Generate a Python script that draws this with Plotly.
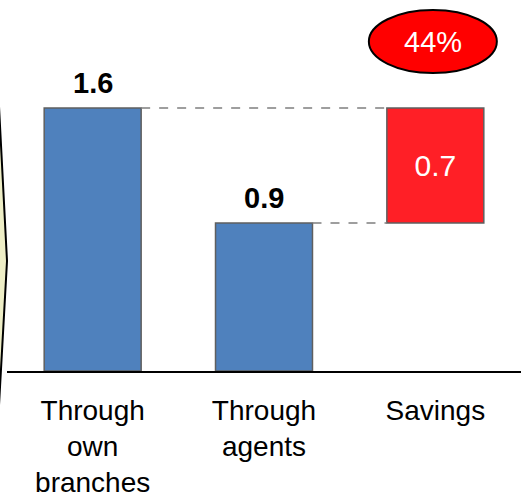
import plotly.graph_objects as go

# Cost per transaction by channel
categories = ["Through<br>own<br>branches", "Through<br>agents", "Savings"]
own_branches = 1.6
agents = 0.9
savings = round(own_branches - agents, 1)
savings_pct = savings / own_branches

BLUE = "#4F81BD"
RED = "#FF1F26"
OUTLINE = "#5F5F5F"
FONT = "Arial, Liberation Sans, sans-serif"
BAR_W = 0.566

fig = go.Figure()

# Blue cost bars
fig.add_trace(go.Bar(
    x=[0, 1], y=[own_branches, agents],
    width=BAR_W,
    marker=dict(color=BLUE, line=dict(color=OUTLINE, width=1.5)),
    hoverinfo="skip",
))

# Floating savings bar between the two costs
fig.add_trace(go.Bar(
    x=[2], y=[savings], base=[agents],
    width=BAR_W,
    marker=dict(color=RED, line=dict(color=OUTLINE, width=1.5)),
    text=[f"{savings}"], textposition="inside", insidetextanchor="middle",
    textfont=dict(color="white", size=30, family=FONT),
    hoverinfo="skip",
))

# Value labels above the blue bars
for xi, v in zip([0, 1], [own_branches, agents]):
    fig.add_annotation(
        x=xi, y=v, text=f"<b>{v}</b>", showarrow=False,
        xanchor="center", yanchor="bottom", yshift=7,
        font=dict(size=29, color="black", family=FONT),
    )

# Dashed connectors from cost bars to the savings bar
for xi, v in zip([0, 1], [own_branches, agents]):
    fig.add_shape(
        type="line", xref="x", yref="y",
        x0=xi + BAR_W / 2, x1=2 - BAR_W / 2, y0=v, y1=v,
        line=dict(color="#7F7F7F", width=1.5, dash="dash"),
    )

# Percentage badge
fig.add_shape(
    type="circle", xref="paper", yref="paper",
    x0=0.704, x1=0.953, y0=0.803, y1=0.973,
    fillcolor="#FF0000", line=dict(color="black", width=2),
)
fig.add_annotation(
    xref="paper", yref="paper", x=0.8285, y=0.888,
    xanchor="center", yanchor="middle",
    text=f"{savings_pct:.0%}", showarrow=False,
    font=dict(size=29, color="white", family=FONT),
)

# Edge of the neighbouring chevron on the left
fig.add_shape(
    type="path", xref="paper", yref="paper",
    path="M -0.09,0.765 L -0.0175,0.765 L 0,0.2965 L -0.0175,-0.140 L -0.09,-0.140 Z",
    fillcolor="#EEEEC6", line=dict(color="black", width=2),
    layer="below",
)

fig.update_layout(
    width=531, height=501,
    margin=dict(l=7, r=10, t=0, b=130),
    paper_bgcolor="white", plot_bgcolor="white",
    showlegend=False,
    barmode="overlay",
    font=dict(family=FONT, color="black"),
    xaxis=dict(
        range=[-0.5, 2.5],
        tickmode="array", tickvals=[0, 1, 2], ticktext=categories,
        tickfont=dict(size=28, color="black", family=FONT),
        showline=True, linecolor="black", linewidth=2,
        ticks="", showgrid=False, zeroline=False,
        ticklabelstandoff=13, automargin=False, fixedrange=True,
    ),
    yaxis=dict(
        range=[0, 2.257], visible=False, showgrid=False,
        zeroline=False, automargin=False, fixedrange=True,
    ),
)

fig.write_html("out.html")
